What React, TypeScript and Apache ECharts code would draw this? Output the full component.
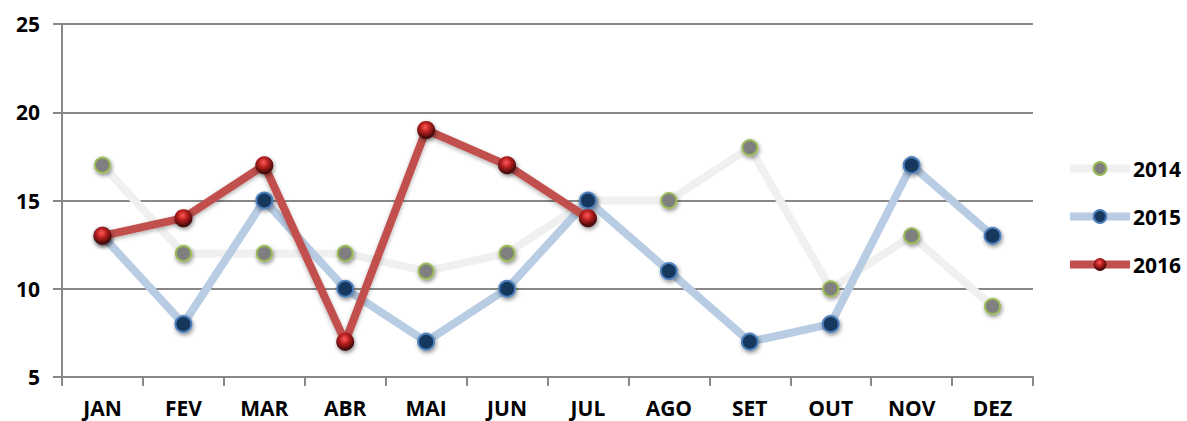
import React, { useEffect, useRef } from "react";
import * as echarts from "echarts";

const categories = ["JAN", "FEV", "MAR", "ABR", "MAI", "JUN", "JUL", "AGO", "SET", "OUT", "NOV", "DEZ"];
const values2014 = [17, 12, 12, 12, 11, 12, 15, 15, 18, 10, 13, 9];
const values2015 = [13, 8, 15, 10, 7, 10, 15, 11, 7, 8, 17, 13];
const values2016 = [13, 14, 17, 7, 19, 17, 14];
const yTicks = { min: 5, max: 25, interval: 5 };

const FONT = "'Open Sans', 'Noto Sans', sans-serif";

export default function App() {
  const ref = useRef<HTMLDivElement>(null);
  useEffect(() => {
    if (!ref.current) return;
    const chart = echarts.init(ref.current, null, { renderer: "svg" });
    const shadow = { shadowBlur: 4, shadowColor: "rgba(0,0,0,0.45)", shadowOffsetX: 1, shadowOffsetY: 2 };
    const redBall = new echarts.graphic.RadialGradient(0.45, 0.35, 0.6, [
      { offset: 0, color: "#ff5a5a" },
      { offset: 0.45, color: "#b8201f" },
      { offset: 1, color: "#400808" },
    ]);
    chart.setOption({
      animation: false,
      grid: { left: 62, right: 154, top: 24, bottom: 44 },
      legend: {
        orient: "vertical",
        right: 1,
        top: 153,
        itemWidth: 60,
        itemHeight: 16,
        itemGap: 27,
        lineStyle: { width: 8 },
        textStyle: { fontFamily: FONT, fontWeight: "bold", fontSize: 21, color: "#000", padding: [0, 0, 0, -2] },
        data: ["2014", "2015", "2016"],
      },
      xAxis: {
        type: "category",
        data: categories,
        boundaryGap: true,
        axisLine: { lineStyle: { color: "#888", width: 2 } },
        axisTick: { show: true, length: 9, lineStyle: { color: "#888", width: 2 } },
        axisLabel: { fontFamily: FONT, fontWeight: "bold", fontSize: 21, color: "#000", margin: 20 },
      },
      yAxis: {
        type: "value",
        min: yTicks.min,
        max: yTicks.max,
        interval: yTicks.interval,
        axisLine: { show: true, lineStyle: { color: "#888", width: 2 } },
        axisTick: { show: true, inside: false, length: 9, lineStyle: { color: "#888", width: 2 } },
        splitLine: { lineStyle: { color: "#888", width: 2 } },
        axisLabel: { fontFamily: FONT, fontWeight: "bold", fontSize: 21, color: "#000", margin: 22 },
      },
      series: [
        {
          name: "2014",
          type: "line",
          data: values2014,
          symbol: "circle",
          symbolSize: 15,
          lineStyle: { color: "#f0f0f0", width: 8 },
          itemStyle: { color: "#7f7f7f", borderColor: "#9bbb59", borderWidth: 2, ...shadow },
          z: 2,
        },
        {
          name: "2015",
          type: "line",
          data: values2015,
          symbol: "circle",
          symbolSize: 16,
          lineStyle: { color: "#b8cce4", width: 8 },
          itemStyle: { color: "#17375e", borderColor: "#4f81bd", borderWidth: 2, ...shadow },
          z: 3,
        },
        {
          name: "2016",
          type: "line",
          data: values2016,
          symbol: "circle",
          symbolSize: 18,
          lineStyle: { color: "#c0504d", width: 8, shadowBlur: 4, shadowColor: "rgba(0,0,0,0.3)", shadowOffsetY: 2 },
          itemStyle: { color: redBall, borderWidth: 0, ...shadow },
          z: 4,
        },
      ],
    });
    return () => chart.dispose();
  }, []);
  return <div ref={ref} style={{ width: 1187, height: 421, position: "absolute", left: 0, top: 0 }} />;
}
